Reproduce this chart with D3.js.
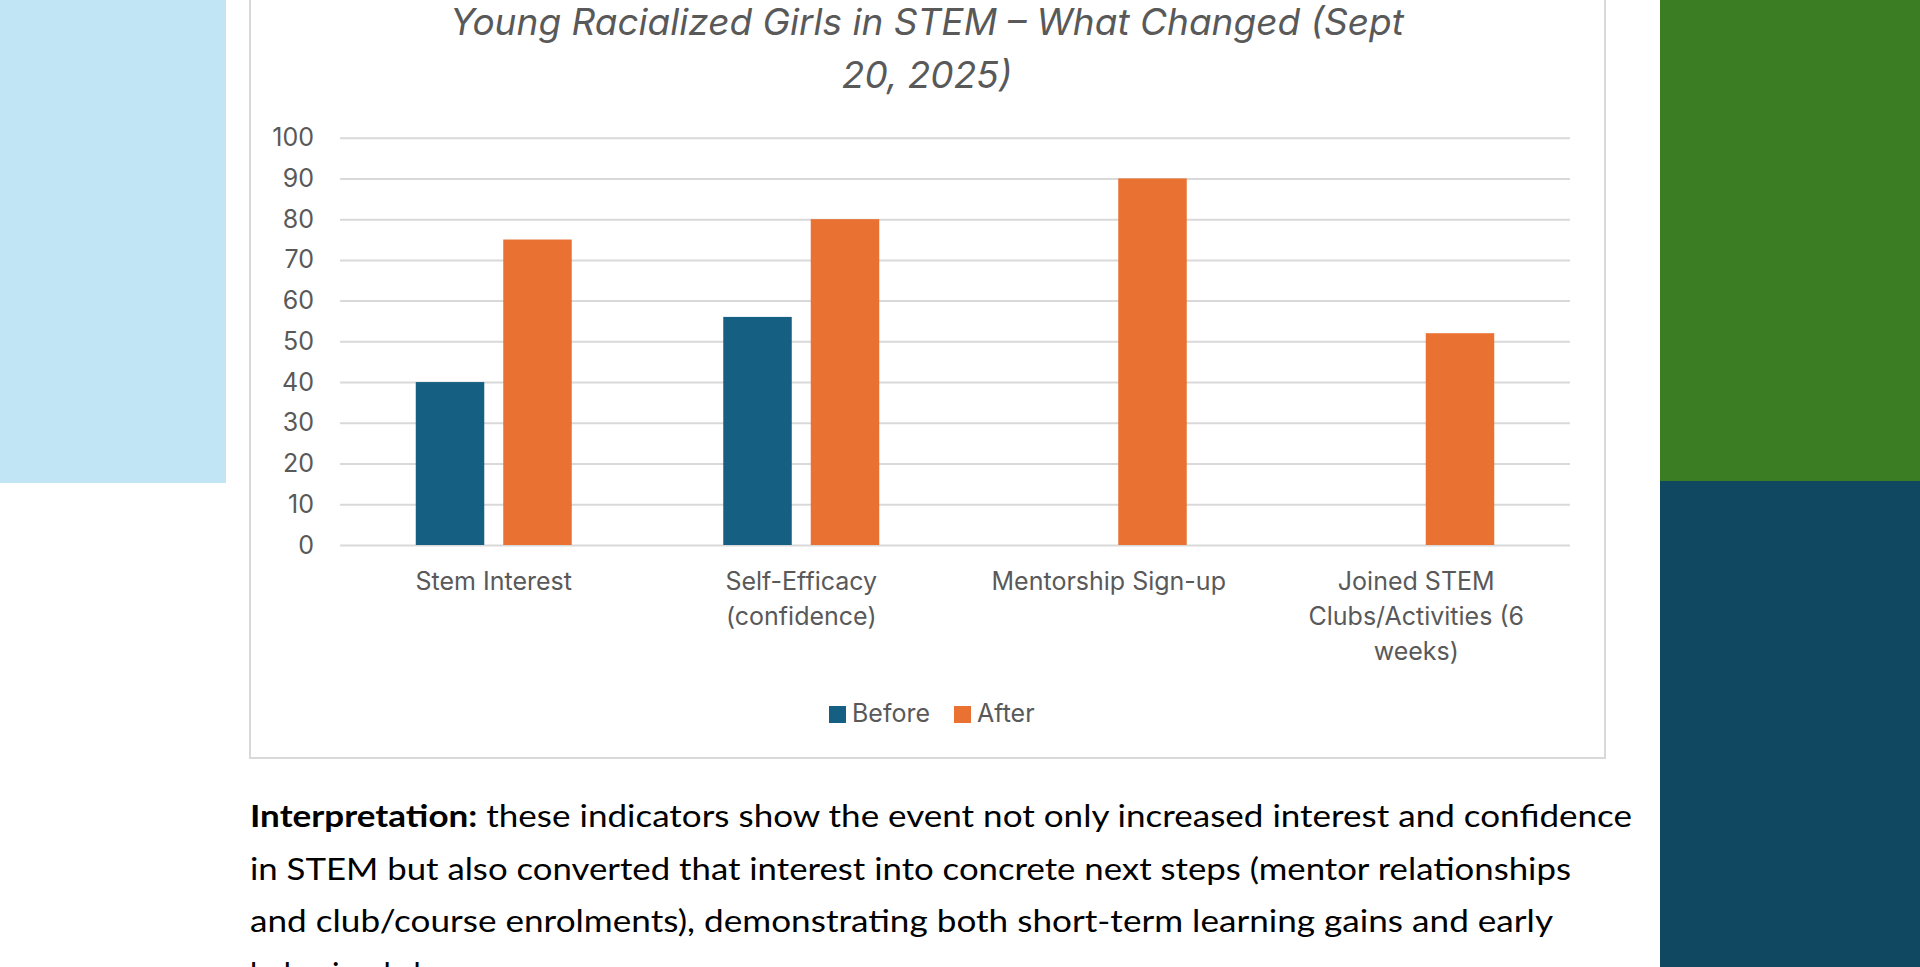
<!DOCTYPE html>
<html>
<head>
<meta charset="utf-8">
<script src="https://cdn.jsdelivr.net/npm/d3@7.9.0/dist/d3.min.js"></script>
<style>
  html, body { margin: 0; padding: 0; background: #fff; overflow: hidden; }
  svg { display: block; }
</style>
</head>
<body>
<svg id="chart" width="1920" height="967"></svg>
<script>
const categories = ["Stem Interest", "Self-Efficacy (confidence)", "Mentorship Sign-up", "Joined STEM Clubs/Activities (6 weeks)"];
const categoryLines = [
  ["Stem Interest"],
  ["Self-Efficacy", "(confidence)"],
  ["Mentorship Sign-up"],
  ["Joined STEM", "Clubs/Activities (6", "weeks)"]
];
const series = ["Before", "After"];
const beforeValues = [40, 56, null, null];
const afterValues = [75, 80, 90, 52];
const yTicks = [0, 10, 20, 30, 40, 50, 60, 70, 80, 90, 100];
const titleLines = ["Young Racialized Girls in STEM \u2013 What Changed (Sept", "20, 2025)"];
const noteLines = [
  "these indicators show the event not only increased interest and confidence",
  "in STEM but also converted that interest into concrete next steps (mentor relationships",
  "and club/course enrolments), demonstrating both short-term learning gains and early",
  "behavioral change."
];

const colors = { Before: "#156082", After: "#E97132" };
const textGrey = "#595959";

const svg = d3.select("#chart");

// page decoration blocks
svg.append("rect").attr("x", 0).attr("y", 0).attr("width", 226).attr("height", 483).attr("fill", "#C1E5F5");
svg.append("rect").attr("x", 1660).attr("y", 0).attr("width", 260).attr("height", 481).attr("fill", "#3B7D23");
svg.append("rect").attr("x", 1660).attr("y", 481).attr("width", 260).attr("height", 486).attr("fill", "#104862");

// chart frame
svg.append("rect")
  .attr("x", 250).attr("y", -20).attr("width", 1355).attr("height", 778)
  .attr("fill", "#fff").attr("stroke", "#d9d9d9").attr("stroke-width", 2);

const plotLeft = 340, plotRight = 1570, plotTop = 137.7, plotBottom = 545;

const x0 = d3.scaleBand().domain(categories).range([plotLeft, plotRight]).padding(0);
const x1 = d3.scaleBand().domain(series).range([0, x0.bandwidth()])
  .paddingInner(0.217).paddingOuter(0.866);
const y = d3.scaleLinear().domain([0, 100]).range([plotBottom, plotTop]);

// gridlines + tick labels
const yAxis = d3.axisLeft(y).tickValues(yTicks).tickSize(-(plotRight - plotLeft)).tickPadding(26);
const gy = svg.append("g").attr("transform", `translate(${plotLeft},0)`).call(yAxis);
gy.select(".domain").remove();
gy.selectAll(".tick line").attr("stroke", "#d9d9d9").attr("stroke-width", 2);
gy.selectAll(".tick text")
  .attr("fill", textGrey)
  .style("font-family", "Inter, sans-serif")
  .style("font-size", "25px");

// bars
const rows = categories.map((c, i) => ({ cat: c, values: [
  { key: "Before", value: beforeValues[i] },
  { key: "After", value: afterValues[i] }
]}));

svg.append("g").selectAll("g")
  .data(rows)
  .join("g")
  .attr("transform", d => `translate(${x0(d.cat)},0)`)
  .selectAll("rect")
  .data(d => d.values.filter(v => v.value != null))
  .join("rect")
  .attr("x", d => x1(d.key))
  .attr("width", x1.bandwidth())
  .attr("y", d => y(d.value))
  .attr("height", d => y(0) - y(d.value))
  .attr("fill", d => colors[d.key]);

// category labels
const labels = svg.append("g")
  .style("font-family", "Inter, sans-serif")
  .style("font-size", "25px")
  .attr("fill", textGrey)
  .attr("text-anchor", "middle");
categories.forEach((c, i) => {
  const cx = x0(c) + x0.bandwidth() / 2;
  const t = labels.append("text").attr("x", cx).attr("y", 590);
  categoryLines[i].forEach((line, j) => {
    t.append("tspan").attr("x", cx).attr("dy", j === 0 ? 0 : 35).text(line);
  });
});

// title
const title = svg.append("text")
  .attr("text-anchor", "middle")
  .attr("fill", textGrey)
  .style("font-family", "Inter, sans-serif")
  .style("font-style", "italic")
  .style("font-size", "37px");
titleLines.forEach((line, j) => {
  title.append("tspan").attr("x", 927).attr("y", 35 + j * 53).text(line);
});

// legend
const legend = svg.append("g")
  .style("font-family", "Inter, sans-serif")
  .style("font-size", "25px")
  .attr("fill", textGrey);
const legendX = [829, 954];
series.forEach((s, i) => {
  legend.append("rect").attr("x", legendX[i]).attr("y", 706).attr("width", 17).attr("height", 17).attr("fill", colors[s]);
  legend.append("text").attr("x", legendX[i] + 23).attr("y", 722).text(s);
});

// interpretation paragraph (last line runs off the bottom edge, as in the source)
const note = svg.append("g")
  .style("font-family", "Lato, sans-serif")
  .style("font-size", "31px")
  .attr("fill", "#000");
const noteWidths = [1382, 1321, 1303, null];
noteLines.forEach((line, j) => {
  const t = note.append("text").attr("x", 250).attr("y", 827 + j * 52.5);
  if (j === 0) {
    t.append("tspan").style("font-weight", "bold").text("Interpretation:");
    t.append("tspan").text(" " + line);
  } else {
    t.text(line);
  }
  if (noteWidths[j]) t.attr("textLength", noteWidths[j]).attr("lengthAdjust", "spacingAndGlyphs");
});
</script>
</body>
</html>
